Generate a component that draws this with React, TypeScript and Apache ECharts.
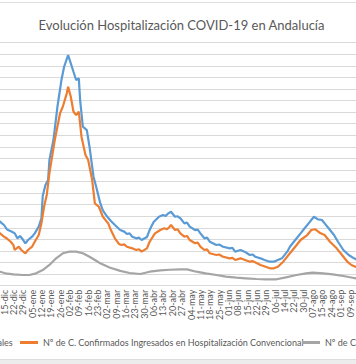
import React, { useEffect, useRef } from "react";
import * as echarts from "echarts";

const TITLE = "Evolución Hospitalización COVID-19 en Andalucía";
const NAME_TOTAL = "Nº de C. Confirmados Hospitalizados Totales";
const NAME_CONV = "Nº de C. Confirmados Ingresados en Hospitalización Convencional";
const NAME_UCI = "Nº de C. Confirmados Ingresados en UCI";

// weekly tick labels; label k sits at point index 7*k
const weekLabels = [
  "15-dic", "22-dic", "29-dic", "05-ene", "12-ene", "19-ene", "26-ene", "02-feb", "09-feb", "16-feb",
  "23-feb", "02-mar", "09-mar", "16-mar", "23-mar", "30-mar", "06-abr", "13-abr", "20-abr", "27-abr",
  "04-may", "11-may", "18-may", "25-may", "01-jun", "08-jun", "15-jun", "22-jun", "29-jun", "06-jul",
  "14-jul", "22-jul", "30-jul", "07-ago", "15-ago", "24-ago", "01-sep", "09-sep",
];

// [point index, value]
const totalData: [number, number][] = [
  [-8, 1180], [-4, 1135], [-3, 1106], [0, 1049], [2, 980], [3, 962], [6, 933], [8, 905], [10, 819], [12, 859],
  [14, 802], [16, 733], [18, 790], [21, 847], [23, 905], [26, 1020], [28, 1165], [29, 1550], [31, 1740],
  [33, 1826], [34, 2172], [37, 2518], [40, 3093], [43, 3555], [45, 3784], [48, 3987], [50, 3843], [52, 3698],
  [54, 3555], [56, 3584], [57, 3204], [59, 2748], [62, 2690], [64, 2402], [67, 1883], [69, 1711], [72, 1430],
  [74, 1300], [77, 1200], [80, 1118], [83, 1049], [87, 962], [90, 935], [92, 893], [94, 905], [96, 847],
  [99, 819], [101, 830], [103, 790], [107, 842], [109, 962], [112, 1101], [116, 1192], [119, 1222], [121, 1205],
  [123, 1251], [125, 1279], [128, 1192], [130, 1200], [132, 1165], [135, 1078], [137, 1090], [139, 1020],
  [143, 962], [145, 970], [147, 905], [150, 819], [152, 830], [154, 760], [159, 703], [161, 712], [164, 674],
  [169, 646], [171, 655], [173, 588], [177, 617], [180, 588], [184, 530], [186, 540], [188, 501], [192, 473],
  [195, 444], [199, 415], [202, 415], [205, 444], [208, 473], [212, 588], [214, 674], [218, 790], [222, 905],
  [225, 992], [228, 1078], [230, 1135], [232, 1192], [235, 1147], [238, 1135], [240, 1078], [243, 992],
  [247, 876], [250, 760], [254, 617], [258, 530], [262, 473], [266, 427], [270, 400],
];

const convData: [number, number][] = [
  [-8, 960], [-4, 928], [-3, 905], [0, 847], [2, 819], [5, 760], [7, 703], [8, 617], [11, 674], [13, 617],
  [16, 560], [18, 617], [21, 674], [23, 760], [26, 876], [28, 1078], [30, 1365], [32, 1567], [34, 1947],
  [38, 2518], [42, 2984], [44, 3093], [47, 3325], [48, 3439], [50, 3266], [52, 3007], [54, 2950], [56, 3007],
  [58, 2575], [61, 2258], [63, 2172], [66, 1826], [68, 1424], [71, 1365], [74, 1192], [78, 1078], [80, 962],
  [83, 819], [86, 721], [88, 703], [90, 715], [92, 674], [96, 646], [99, 617], [101, 630], [103, 588],
  [107, 646], [109, 760], [113, 905], [117, 962], [120, 992], [122, 975], [124, 1020], [125, 1049], [128, 962],
  [130, 975], [132, 905], [135, 847], [137, 860], [139, 790], [143, 733], [145, 745], [147, 674], [150, 617],
  [152, 628], [154, 560], [159, 530], [161, 540], [164, 501], [169, 473], [171, 482], [173, 444], [177, 473],
  [184, 415], [186, 425], [192, 358], [199, 301], [202, 301], [205, 328], [209, 415], [214, 560], [218, 674],
  [222, 790], [227, 876], [230, 962], [233, 975], [237, 905], [240, 876], [244, 760], [249, 646], [253, 530],
  [257, 415], [260, 358], [263, 328], [270, 290],
];

const uciData: [number, number][] = [
  [-8, 260], [-3, 242], [1, 214], [7, 197], [14, 185], [19, 185], [24, 214], [29, 271], [34, 358], [39, 473],
  [44, 560], [49, 588], [54, 588], [59, 560], [64, 501], [69, 432], [72, 387], [79, 314], [87, 257], [94, 219],
  [102, 202], [109, 242], [117, 266], [124, 276], [132, 283], [137, 283], [144, 242], [151, 214], [159, 185],
  [166, 156], [174, 138], [181, 128], [189, 116], [196, 111], [204, 111], [211, 145], [219, 185], [226, 214],
  [231, 225], [239, 214], [246, 197], [254, 168], [261, 138], [266, 116], [270, 110],
];

const OX = 200; // chart is wider than the visible crop; offset in px
const CW = 760;
const CH = 364;

export default function App() {
  const ref = useRef<HTMLDivElement>(null);
  useEffect(() => {
    if (!ref.current) return;
    const chart = echarts.init(ref.current, undefined, { renderer: "svg" });
    const font = "Lato, 'Open Sans', sans-serif";
    const textColor = "#595959";
    const legendCommon = {
      orient: "horizontal" as const,
      padding: 0,
      itemWidth: 18,
      itemHeight: 3,
      icon: "rect",
      top: 338,
      textStyle: { color: textColor, fontSize: 9, fontFamily: font },
    };
    chart.setOption({
      animation: false,
      backgroundColor: "#ffffff",
      title: {
        text: TITLE,
        left: OX + 176.5,
        textAlign: "center",
        top: 13,
        textStyle: { color: textColor, fontSize: 13, fontWeight: "normal", fontFamily: font },
      },
      legend: [
        { ...legendCommon, right: CW - (OX + 13), data: [NAME_TOTAL] },
        { ...legendCommon, left: OX + 20, data: [NAME_CONV] },
        { ...legendCommon, left: OX + 302, data: [NAME_UCI] },
      ],
      grid: { left: OX + 4 - 21 * 1.336, right: CW - (OX + 4 + 280 * 1.336), top: 42.7, bottom: CH - 285.7 },
      xAxis: {
        type: "value",
        min: -21,
        max: 280,
        interval: 7,
        axisLine: { show: true, lineStyle: { color: "#d9d9d9", width: 1 } },
        axisTick: { show: false },
        splitLine: { show: false },
        axisLabel: {
          rotate: 90,
          margin: 4,
          fontSize: 9,
          fontFamily: font,
          color: textColor,
          showMinLabel: true,
          showMaxLabel: true,
          formatter: (v: number) => {
            const k = Math.round(v / 7);
            return k >= 0 && k < weekLabels.length ? weekLabels[k] : "";
          },
        },
      },
      yAxis: {
        type: "value",
        min: 0,
        max: 4200,
        interval: 200,
        axisLine: { show: false },
        axisTick: { show: false },
        axisLabel: { show: false },
        splitLine: { show: true, lineStyle: { color: "#d9d9d9", width: 1 } },
      },
      graphic: [
        { type: "line", shape: { x1: 0, y1: 2.5, x2: CW, y2: 2.5 }, style: { stroke: "#dedede", lineWidth: 1 } },
        { type: "rect", shape: { x: 0, y: 359.5, width: CW, height: 5 }, style: { fill: "#ececec", stroke: "#dcdcdc", lineWidth: 1 } },
      ],
      series: [
        { name: NAME_TOTAL, type: "line", data: totalData, showSymbol: false, color: "#5b9bd5", lineStyle: { width: 2.2, color: "#5b9bd5" } },
        { name: NAME_CONV, type: "line", data: convData, showSymbol: false, color: "#ed7d31", lineStyle: { width: 2.2, color: "#ed7d31" } },
        { name: NAME_UCI, type: "line", data: uciData, showSymbol: false, color: "#a5a5a5", lineStyle: { width: 2.2, color: "#a5a5a5" } },
      ],
    });
    return () => chart.dispose();
  }, []);
  return (
    <div style={{ position: "fixed", left: 0, top: 0, width: 356, height: 364, overflow: "hidden", background: "#fff" }}>
      <div ref={ref} style={{ position: "absolute", left: -OX, top: 0, width: CW, height: CH }} />
    </div>
  );
}
